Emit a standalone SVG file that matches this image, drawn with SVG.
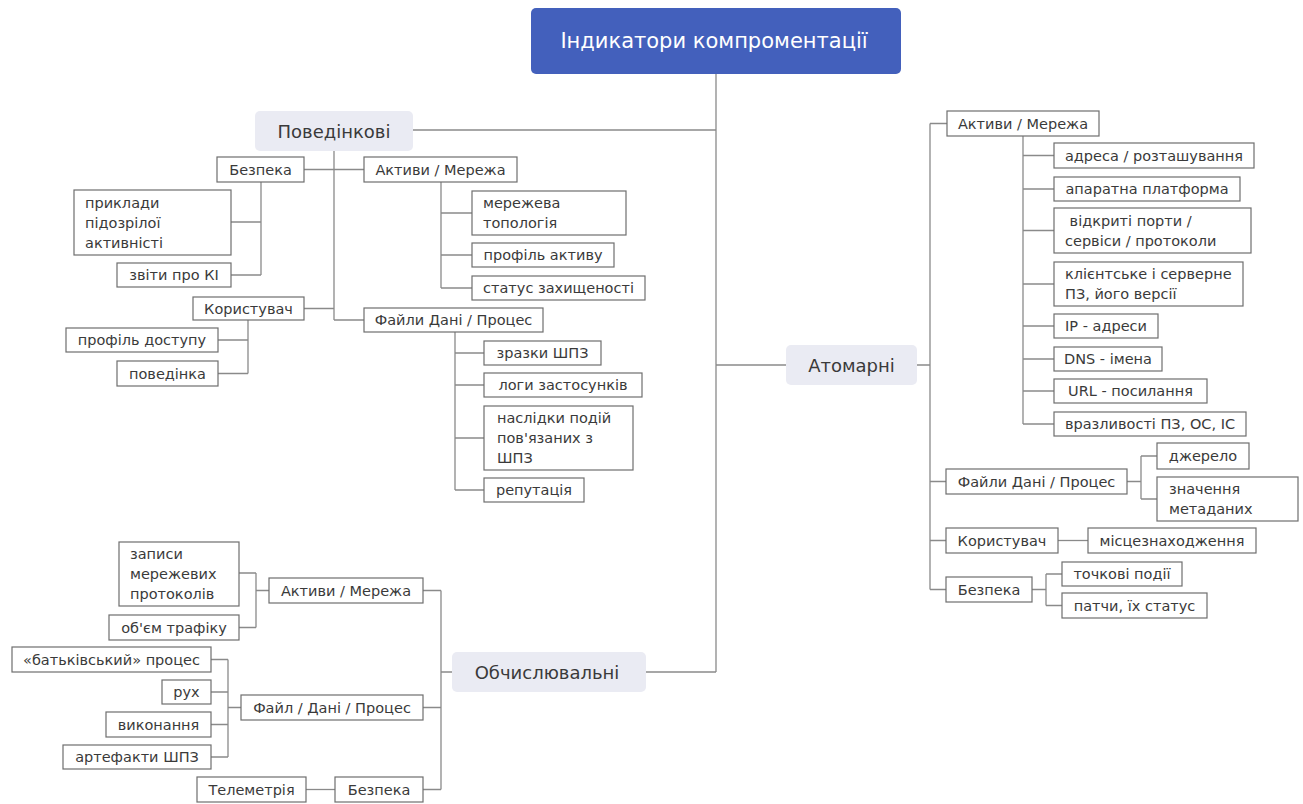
<svg xmlns="http://www.w3.org/2000/svg" width="1303" height="804" viewBox="0 0 1303 804">
  <style>
    text { font-family: "DejaVu Sans", "Noto Sans", sans-serif; fill: #3A3A3A; }
    .root rect { fill: #4360BC; }
    .root text { fill: #FFFFFF; font-size: 21px; }
    .branch rect { fill: #EAEBF3; }
    .branch text { font-size: 18px; }
    .leaf rect { fill: #FFFFFF; stroke: #6E6E6E; stroke-width: 1.2; }
    .leaf text { font-size: 14.5px; }
    .c { text-anchor: middle; dominant-baseline: central; }
    .l { dominant-baseline: central; }
    #connectors path { fill: none; stroke: #8A8A8A; stroke-width: 1.3; }
  </style>

  <!-- connector lines -->
  <g id="connectors">
    <!-- trunk -->
    <path d="M716 74 V672 M413 130 H716 M716 365 H786 M646 672 H716"/>
    <!-- Поведінкові -->
    <path d="M334 151 V320 M304 169.5 H364 M304 308.5 H334 M334 320 H364"/>
    <path d="M261 182 V275 M231 222 H261 M231 275 H261"/>
    <path d="M248 320 V373.5 M218 340 H248 M218 373.5 H248"/>
    <path d="M441 182 V288 M441 213 H472 M441 255 H472 M441 288 H472"/>
    <path d="M455 332 V490 M455 353 H484 M455 385 H484 M455 438 H484 M455 490 H484"/>
    <!-- Атомарні -->
    <path d="M917 365 H930 M930 123.5 V589.5 M930 123.5 H947 M930 481.5 H946 M930 540.5 H946 M930 589.5 H946"/>
    <path d="M1023 136 V424 M1023 155.5 H1054 M1023 189 H1054 M1023 230.5 H1054 M1023 284 H1054 M1023 326 H1054 M1023 359 H1054 M1023 391 H1054 M1023 424 H1054"/>
    <path d="M1127 481.5 H1141 M1141 456 V499 M1141 456 H1157 M1141 499 H1157"/>
    <path d="M1058 540.5 H1088"/>
    <path d="M1032 589.5 H1046 M1046 574 V605.5 M1046 574 H1062 M1046 605.5 H1062"/>
    <!-- Обчислювальні -->
    <path d="M441 590.5 V789.5 M441 672 H452 M423 590.5 H441 M423 707.5 H441 M423 789.5 H441"/>
    <path d="M269 590.5 H256 M256 573 V627.5 M239 573 H256 M239 627.5 H256"/>
    <path d="M241 707.5 H228 M228 659.5 V757 M211 659.5 H228 M211 692 H228 M211 724.5 H228 M211 757 H228"/>
    <path d="M306 789.5 H335"/>
  </g>

  <!-- root -->
  <g id="root" class="root">
    <rect x="531" y="8" width="370" height="66" rx="5"/>
    <text class="c" x="714" y="41">Індикатори компроментації</text>
  </g>

  <!-- main branches -->
  <g id="behavioral" class="branch">
    <rect x="255" y="111" width="158" height="40" rx="5"/>
    <text class="c" x="334" y="131">Поведінкові</text>
  </g>
  <g id="atomic" class="branch">
    <rect x="786" y="345" width="131" height="40" rx="5"/>
    <text class="c" x="851.5" y="365">Атомарні</text>
  </g>
  <g id="computed" class="branch">
    <rect x="452" y="652" width="194" height="40" rx="5"/>
    <text class="c" x="547" y="672">Обчислювальні</text>
  </g>

  <!-- Поведінкові: sub-nodes -->
  <g id="b-security" class="leaf">
    <rect x="217" y="157" width="87" height="25"/>
    <text class="c" x="260.5" y="169.5">Безпека</text>
  </g>
  <g id="b-suspicious" class="leaf">
    <rect x="74" y="190" width="157" height="65"/>
    <text class="l" x="85" y="203">приклади</text>
    <text class="l" x="85" y="223">підозрілої</text>
    <text class="l" x="85" y="243">активністі</text>
  </g>
  <g id="b-reports" class="leaf">
    <rect x="117" y="263" width="114" height="24"/>
    <text class="c" x="174" y="275">звіти про КІ</text>
  </g>
  <g id="b-user" class="leaf">
    <rect x="193" y="297" width="111" height="23"/>
    <text class="c" x="248.5" y="308.5">Користувач</text>
  </g>
  <g id="b-access" class="leaf">
    <rect x="66" y="328" width="152" height="24"/>
    <text class="c" x="142" y="340">профіль доступу</text>
  </g>
  <g id="b-behaviour" class="leaf">
    <rect x="117" y="361" width="101" height="25"/>
    <text class="c" x="167.5" y="373.5">поведінка</text>
  </g>
  <g id="b-assets" class="leaf">
    <rect x="364" y="157" width="153" height="25"/>
    <text class="c" x="440.5" y="169.5">Активи / Мережа</text>
  </g>
  <g id="b-topology" class="leaf">
    <rect x="472" y="191" width="154" height="44"/>
    <text class="l" x="483" y="203">мережева</text>
    <text class="l" x="483" y="223">топологія</text>
  </g>
  <g id="b-asset-profile" class="leaf">
    <rect x="472" y="243" width="142" height="24"/>
    <text class="c" x="543" y="255">профіль активу</text>
  </g>
  <g id="b-protection" class="leaf">
    <rect x="472" y="276" width="173" height="24"/>
    <text class="c" x="558.5" y="288">статус захищеності</text>
  </g>
  <g id="b-files" class="leaf">
    <rect x="364" y="308" width="179" height="24"/>
    <text class="c" x="453.5" y="320">Файли Дані / Процес</text>
  </g>
  <g id="b-samples" class="leaf">
    <rect x="484" y="341" width="117" height="24"/>
    <text class="c" x="542.5" y="353">зразки ШПЗ</text>
  </g>
  <g id="b-logs" class="leaf">
    <rect x="484" y="373" width="158" height="24"/>
    <text class="c" x="563" y="385">логи застосунків</text>
  </g>
  <g id="b-effects" class="leaf">
    <rect x="484" y="406" width="149" height="64"/>
    <text class="l" x="497" y="418">наслідки подій</text>
    <text class="l" x="497" y="438">пов'язаних з</text>
    <text class="l" x="497" y="458">ШПЗ</text>
  </g>
  <g id="b-reputation" class="leaf">
    <rect x="484" y="478" width="100" height="24"/>
    <text class="c" x="534" y="490">репутація</text>
  </g>

  <!-- Атомарні: sub-nodes -->
  <g id="a-assets" class="leaf">
    <rect x="947" y="111" width="152" height="25"/>
    <text class="c" x="1023" y="123.5">Активи / Мережа</text>
  </g>
  <g id="a-address" class="leaf">
    <rect x="1054" y="143" width="200" height="25"/>
    <text class="c" x="1154" y="155.5">адреса / розташування</text>
  </g>
  <g id="a-platform" class="leaf">
    <rect x="1054" y="177" width="186" height="24"/>
    <text class="c" x="1147" y="189">апаратна платформа</text>
  </g>
  <g id="a-ports" class="leaf">
    <rect x="1054" y="208" width="197" height="45"/>
    <text class="l" x="1065" y="220.5">&#160;відкриті порти /</text>
    <text class="l" x="1065" y="240.5">сервіси / протоколи</text>
  </g>
  <g id="a-software" class="leaf">
    <rect x="1054" y="262" width="189" height="44"/>
    <text class="l" x="1065" y="274">клієнтське і серверне</text>
    <text class="l" x="1065" y="294">ПЗ, його версії</text>
  </g>
  <g id="a-ip" class="leaf">
    <rect x="1054" y="314" width="104" height="24"/>
    <text class="c" x="1106" y="326">IP - адреси</text>
  </g>
  <g id="a-dns" class="leaf">
    <rect x="1054" y="347" width="108" height="24"/>
    <text class="c" x="1108" y="359">DNS - імена</text>
  </g>
  <g id="a-url" class="leaf">
    <rect x="1054" y="379" width="153" height="24"/>
    <text class="c" x="1130.5" y="391">URL - посилання</text>
  </g>
  <g id="a-vuln" class="leaf">
    <rect x="1054" y="412" width="192" height="24"/>
    <text class="c" x="1150" y="424">вразливості ПЗ, ОС, ІС</text>
  </g>
  <g id="a-files" class="leaf">
    <rect x="946" y="469" width="181" height="25"/>
    <text class="c" x="1036.5" y="481.5">Файли Дані / Процес</text>
  </g>
  <g id="a-source" class="leaf">
    <rect x="1157" y="443" width="92" height="26"/>
    <text class="c" x="1203" y="456">джерело</text>
  </g>
  <g id="a-metadata" class="leaf">
    <rect x="1157" y="477" width="141" height="44"/>
    <text class="l" x="1169" y="489">значення</text>
    <text class="l" x="1169" y="509">метаданих</text>
  </g>
  <g id="a-user" class="leaf">
    <rect x="946" y="528" width="112" height="25"/>
    <text class="c" x="1002" y="540.5">Користувач</text>
  </g>
  <g id="a-location" class="leaf">
    <rect x="1088" y="528" width="168" height="25"/>
    <text class="c" x="1172" y="540.5">місцезнаходження</text>
  </g>
  <g id="a-security" class="leaf">
    <rect x="946" y="577" width="86" height="25"/>
    <text class="c" x="989" y="589.5">Безпека</text>
  </g>
  <g id="a-events" class="leaf">
    <rect x="1062" y="562" width="120" height="24"/>
    <text class="c" x="1122" y="574">точкові події</text>
  </g>
  <g id="a-patches" class="leaf">
    <rect x="1062" y="593" width="145" height="25"/>
    <text class="c" x="1134.5" y="605.5">патчи, їх статус</text>
  </g>

  <!-- Обчислювальні: sub-nodes -->
  <g id="c-assets" class="leaf">
    <rect x="269" y="578" width="154" height="25"/>
    <text class="c" x="346" y="590.5">Активи / Мережа</text>
  </g>
  <g id="c-records" class="leaf">
    <rect x="119" y="542" width="120" height="64"/>
    <text class="l" x="130" y="554">записи</text>
    <text class="l" x="130" y="574">мережевих</text>
    <text class="l" x="130" y="594">протоколів</text>
  </g>
  <g id="c-traffic" class="leaf">
    <rect x="109" y="615" width="130" height="25"/>
    <text class="c" x="174" y="627.5">об'єм трафіку</text>
  </g>
  <g id="c-files" class="leaf">
    <rect x="241" y="695" width="182" height="25"/>
    <text class="c" x="332" y="707.5">Файл / Дані / Процес</text>
  </g>
  <g id="c-parent" class="leaf">
    <rect x="12" y="647" width="199" height="25"/>
    <text class="c" x="111.5" y="659.5">«батьківський» процес</text>
  </g>
  <g id="c-movement" class="leaf">
    <rect x="162" y="680" width="49" height="24"/>
    <text class="c" x="186.5" y="692">рух</text>
  </g>
  <g id="c-execution" class="leaf">
    <rect x="106" y="712" width="105" height="25"/>
    <text class="c" x="158.5" y="724.5">виконання</text>
  </g>
  <g id="c-artifacts" class="leaf">
    <rect x="63" y="745" width="148" height="24"/>
    <text class="c" x="137" y="757">артефакти ШПЗ</text>
  </g>
  <g id="c-security" class="leaf">
    <rect x="335" y="777" width="88" height="25"/>
    <text class="c" x="379" y="789.5">Безпека</text>
  </g>
  <g id="c-telemetry" class="leaf">
    <rect x="197" y="777" width="109" height="25"/>
    <text class="c" x="251.5" y="789.5">Телеметрія</text>
  </g>
</svg>
